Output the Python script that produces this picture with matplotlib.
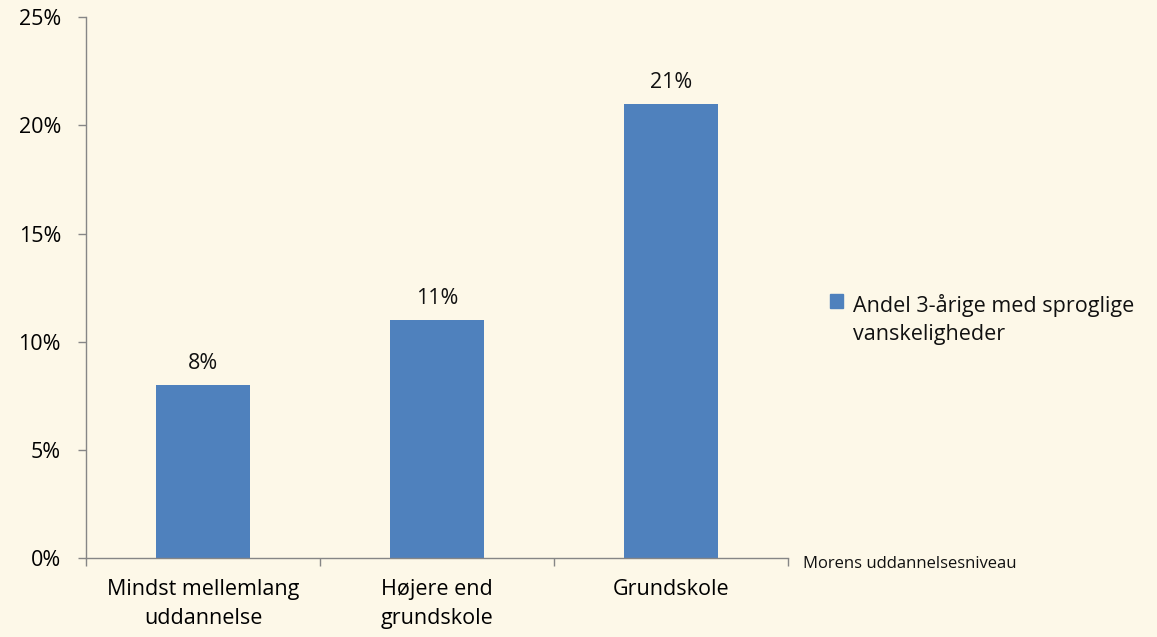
import matplotlib
matplotlib.use("Agg")
import matplotlib.pyplot as plt
from matplotlib.patches import Patch
from matplotlib.ticker import FixedLocator

CATEGORIES = ["Mindst mellemlang\nuddannelse", "Højere end\ngrundskole", "Grundskole"]
VALUES = [8, 11, 21]
SERIES_NAME = "Andel 3-årige med sproglige\nvanskeligheder"
Y_TICKS = [0, 5, 10, 15, 20, 25]
X_TITLE = "Morens uddannelsesniveau"

BG = "#fdf8e8"
BAR = "#4f81bd"
AXIS = "#868686"

plt.rcParams["font.family"] = ["Open Sans", "DejaVu Sans"]
plt.rcParams["text.color"] = "#111111"

fig = plt.figure(figsize=(11.57, 6.37), dpi=100, facecolor=BG)
ax = fig.add_axes([0.0743, 0.124, 0.6067, 0.849])
ax.set_facecolor(BG)

x = list(range(len(CATEGORIES)))
ax.bar(x, VALUES, width=0.4, color=BAR, zorder=2)
for xi, v in zip(x, VALUES):
    ax.annotate(f"{v}%", (xi, v), xytext=(0, 8), textcoords="offset points",
                ha="center", va="bottom", fontsize=15.5)

ax.set_xlim(-0.5, len(CATEGORIES) - 0.5)
ax.set_ylim(0, 25)
ax.set_yticks(Y_TICKS)
ax.set_yticklabels([f"{t}%" for t in Y_TICKS], fontsize=15.5)
ax.set_xticks(x)
ax.set_xticklabels(CATEGORIES, fontsize=15.5)
for lbl in ax.get_xticklabels():
    lbl.set_linespacing(1.5)
ax.tick_params(axis="x", which="major", length=0, pad=15)
ax.xaxis.set_minor_locator(FixedLocator([i - 0.5 for i in range(len(CATEGORIES) + 1)]))
ax.tick_params(axis="x", which="minor", length=6, color=AXIS, width=1)
ax.tick_params(axis="y", length=6, color=AXIS, width=1, pad=12)

for side in ("top", "right"):
    ax.spines[side].set_visible(False)
for side in ("left", "bottom"):
    ax.spines[side].set_color(AXIS)
    ax.spines[side].set_linewidth(1)

fig.text(803 / 1157, 1 - 564 / 637, X_TITLE, fontsize=12, ha="left", va="center")

handle = Patch(facecolor=BAR, edgecolor=BAR)
leg = fig.legend([handle], [SERIES_NAME], loc="upper left", bbox_to_anchor=(830 / 1157, 1 - 294 / 637),
                 frameon=False, fontsize=15.5, handlelength=0.6, handleheight=0.6, handletextpad=0.45,
                 borderaxespad=0, borderpad=0)
for t in leg.get_texts():
    t.set_linespacing(1.45)
# keep the marker next to the first line of the label
for col in leg._legend_handle_box.get_children():
    for row in col.get_children():
        row.align = "top"

fig.savefig("out.png", dpi=100, facecolor=BG)
